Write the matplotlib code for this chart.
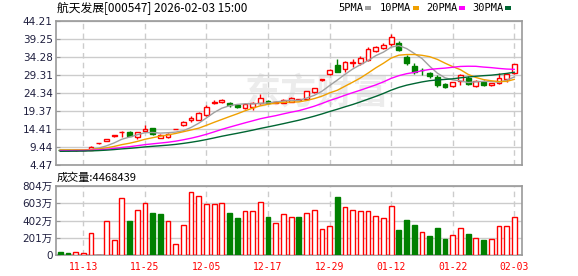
import numpy as np
import pandas as pd
import matplotlib
matplotlib.use('Agg')
import matplotlib.pyplot as plt
from matplotlib.patches import Rectangle

plt.rcParams['font.family'] = ['DejaVu Sans', 'Noto Sans CJK SC']

# 数据
dates = ['11-10', '11-11', '11-12', '11-13', '11-14', '11-17', '11-18', '11-19', '11-20', '11-21',
         '11-24', '11-25', '11-26', '11-27', '11-28', '12-01', '12-02', '12-03', '12-04', '12-05',
         '12-08', '12-09', '12-10', '12-11', '12-12', '12-15', '12-16', '12-17', '12-18', '12-19',
         '12-22', '12-23', '12-24', '12-25', '12-26', '12-29', '12-30', '12-31', '01-05', '01-06',
         '01-07', '01-08', '01-09', '01-12', '01-13', '01-14', '01-15', '01-16', '01-19', '01-20',
         '01-21', '01-22', '01-23', '01-26', '01-27', '01-28', '01-29', '01-30', '02-02', '02-03']

open_ = [8.72, 8.6, 8.5, 8.58, 8.74, 10.42, 11.2, 12.4, 13.5, 13.64,
         12.28, 13.82, 14.55, 12.0, 12.19, 14.35, 15.63, 16.81, 16.99, 18.17,
         21.7, 21.9, 21.53, 20.95, 20.17, 20.44, 21.53, 22.25, 21.7, 21.71,
         21.98, 22.5, 22.62, 24.52, 27.8, 29.7, 32.14, 31.06, 32.6, 32.6,
         33.5, 35.86, 36.77, 37.95, 38.22, 34.3, 31.78, 30.8, 29.78, 28.87,
         26.78, 26.15, 27.69, 28.6, 26.15, 27.5, 26.6, 27.05, 28.24, 29.78]
high = [8.8, 8.65, 8.62, 8.7, 9.65, 10.5, 11.52, 12.67, 13.94, 13.8,
        13.7, 15.45, 14.7, 13.0, 13.3, 14.45, 16.7, 17.9, 19.08, 21.0,
        22.5, 22.6, 21.98, 21.1, 21.5, 21.9, 23.98, 22.5, 22.1, 22.6,
        23.2, 22.8, 24.95, 25.8, 28.17, 31.0, 33.78, 33.3, 33.78, 34.5,
        36.9, 37.3, 38.1, 40.67, 38.6, 34.95, 32.5, 31.3, 30.2, 29.3,
        27.0, 27.5, 29.6, 28.9, 27.9, 27.9, 27.2, 29.8, 29.7, 32.4]
low = [8.55, 8.45, 8.45, 8.5, 8.7, 10.4, 11.1, 12.3, 12.2, 12.4,
       11.73, 13.6, 12.8, 11.85, 11.9, 14.3, 15.2, 16.36, 16.8, 18.0,
       21.3, 21.6, 20.53, 20.26, 20.0, 19.53, 21.4, 21.3, 21.5, 21.5,
       21.8, 22.3, 22.45, 24.3, 27.6, 29.4, 30.0, 30.15, 31.5, 32.0,
       33.2, 35.6, 36.5, 37.3, 35.9, 32.2, 29.5, 29.3, 28.6, 25.97,
       25.7, 26.0, 26.6, 26.5, 26.0, 26.2, 26.4, 26.9, 27.3, 29.6]
close = [8.6, 8.5, 8.58, 8.65, 9.52, 10.47, 11.52, 12.67, 13.7, 12.55,
         13.55, 14.45, 12.95, 12.85, 13.1, 14.41, 16.36, 17.45, 18.72, 20.44,
         21.85, 22.3, 20.9, 20.45, 21.35, 21.71, 22.98, 21.53, 21.9, 22.44,
         22.89, 22.6, 24.89, 25.61, 28.1, 30.78, 30.15, 32.8, 32.95, 34.05,
         36.5, 36.95, 37.68, 39.8, 36.13, 32.5, 30.23, 30.65, 29.14, 26.6,
         26.06, 27.33, 29.33, 26.8, 27.69, 26.6, 27.05, 28.42, 29.5, 32.23]
# 成交量（万股）
volume = [39, 27, 39, 23, 255, 4, 394, 174, 661, 398,
          522, 603, 491, 479, 394, 131, 352, 730, 688, 600,
          600, 611, 488, 430, 507, 507, 623, 441, 372, 472,
          437, 441, 495, 530, 298, 333, 673, 565, 519, 507,
          507, 449, 426, 569, 290, 406, 348, 267, 221, 313,
          186, 228, 310, 244, 194, 174, 182, 333, 333, 447]
# 图左侧之前的收盘价（用于均线起点，按均线起点位置估计）
prior_close = [7.85, 7.9, 7.95, 7.88, 7.92, 8.0, 7.96, 8.02, 8.05, 7.98,
               8.04, 8.1, 8.08, 8.12, 8.18, 8.15, 8.22, 8.3, 8.25, 8.35,
               8.45, 8.5, 8.48, 8.6, 8.55, 8.7, 8.75, 8.68, 8.76]

price_ticks = ['4.47', '9.44', '14.41', '19.37', '24.34', '29.31', '34.28', '39.25', '44.21']
vol_ticks = [0, 201, 402, 603, 804]
label_idx = [3, 11, 19, 27, 35, 43, 51, 59]

ma_periods = [5, 10, 20, 30]
ma_colors = ['#a0a0a0', '#f0a000', '#ff00ff', '#006633']

UP = '#ff0000'
DOWN = '#008000'
GRID = '#cccccc'
BORDER = '#999999'

n = len(close)
x = np.arange(n)
all_close = pd.Series(prior_close + close)

fig = plt.figure(figsize=(5.78, 2.76), dpi=100)
ax = fig.add_axes([55.5 / 578, (276 - 165) / 276, 466.8 / 578, 144 / 276])
axv = fig.add_axes([55.5 / 578, (276 - 255) / 276, 466.8 / 578, 69 / 276])

# 水印
ax.text(0.56, 0.5, '东方财富', transform=ax.transAxes, fontsize=26, color='#ececec',
        fontweight='bold', style='italic', ha='center', va='center', zorder=0,
        family=['Noto Sans CJK SC'])

# K线
w = 0.62
for i in range(n):
    o, h, l, c = open_[i], high[i], low[i], close[i]
    up = c >= o
    col = UP if up else DOWN
    bot = min(o, c)
    hgt = max(abs(c - o), 0.12)
    ax.vlines(i, l, h, color=col, linewidth=1, zorder=2)
    ax.add_patch(Rectangle((i - w / 2, bot), w, hgt, facecolor='white' if up else col,
                           edgecolor=col, linewidth=1, zorder=3))

# 均线
for p, col in zip(ma_periods, ma_colors):
    ma = all_close.rolling(p, min_periods=1).mean().values[-n:]
    ax.plot(x, ma, color=col, linewidth=1, zorder=4)

yt = [float(t) for t in price_ticks]
ax.set_ylim(yt[0], yt[-1])
ax.set_yticks(yt)
ax.set_yticklabels(price_ticks)
ax.set_xlim(-0.62, 60.04)
ax.set_xticks(label_idx)
ax.set_xticklabels([])

# 成交量
prev = [prior_close[-1]] + close[:-1]
for i in range(n):
    up = close[i] >= prev[i]
    col = UP if up else DOWN
    axv.add_patch(Rectangle((i - w / 2, 0), w, volume[i] * 1e4,
                            facecolor='white' if up else col, edgecolor=col,
                            linewidth=1, zorder=3))
axv.set_xlim(-0.62, 60.04)
axv.set_ylim(0, 804e4)
axv.set_yticks([v * 1e4 for v in vol_ticks])
axv.set_yticklabels(['0' if v == 0 else f'{v}万' for v in vol_ticks])
axv.set_xticks(label_idx)
axv.set_xticklabels([dates[i] for i in label_idx], color=UP, family='DejaVu Sans Mono', fontsize=7)

for a in (ax, axv):
    a.set_axisbelow(True)
    a.grid(axis='y', color=GRID, linewidth=1, linestyle='-')
    a.grid(axis='x', color=GRID, linewidth=1, linestyle=(0, (4, 3)))
    for s in a.spines.values():
        s.set_color(BORDER)
        s.set_linewidth(1.2)
    a.tick_params(axis='y', direction='in', length=3, color=BORDER, labelsize=7.5,
                  labelcolor='#1f1f3f', pad=2)
    a.tick_params(axis='x', length=0, pad=5)

# 标题与图例
fig.text(57 / 578, 1 - 9 / 276, '航天发展[000547] 2026-02-03 15:00', fontsize=8.5,
         va='center', ha='left', family=['Noto Sans CJK SC', 'DejaVu Sans'])
leg_x = [338, 380, 426, 472]
fig.canvas.draw()
r = fig.canvas.get_renderer()
for p, col, lx in zip(ma_periods, ma_colors, leg_x):
    t = fig.text(lx / 578, 1 - 8 / 276, f'{p}PMA', fontsize=7.5, va='center', ha='left',
                 family='DejaVu Sans Mono')
    bb = t.get_window_extent(renderer=r)
    mx = bb.x1 + 2
    fig.patches.append(Rectangle((mx / 578, 1 - 10 / 276), 6 / 578, 4 / 276,
                                 facecolor=col, edgecolor='none',
                                 transform=fig.transFigure, figure=fig))

fig.text(57 / 578, 1 - 178 / 276, '成交量:4468439', fontsize=8, va='center', ha='left',
         family=['Noto Sans CJK SC', 'DejaVu Sans'])

plt.savefig('out.png', dpi=100)
